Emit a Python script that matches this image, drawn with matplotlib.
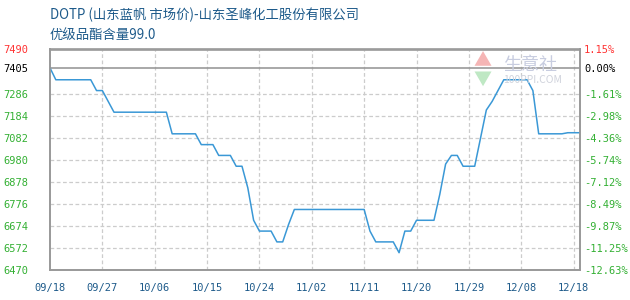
'''DOTP price chart (100ppi style)'''
import matplotlib
matplotlib.use('Agg')
import matplotlib.pyplot as plt

# chart data
title_line1 = 'DOTP (山东蓝帆 市场价)-山东圣峰化工股份有限公司'
title_line2 = '优级品酯含量99.0'
day_index = [0, 1, 7, 8, 9, 11, 20, 21, 25, 26, 28, 29, 31, 32, 33, 34, 35, 36,
             38, 39, 40, 41, 42, 54, 55, 56, 59, 60, 61, 62, 63, 66, 67, 68, 69,
             70, 71, 73, 74, 75, 76, 77, 78, 82, 83, 84, 88, 89, 91]
prices = [7405, 7350, 7350, 7300, 7300, 7200, 7200, 7100, 7100, 7050, 7050, 7000,
          7000, 6950, 6950, 6850, 6700, 6650, 6650, 6600, 6600, 6680, 6750, 6750,
          6650, 6600, 6600, 6550, 6650, 6650, 6700, 6700, 6820, 6960, 7000, 7000,
          6950, 6950, 7080, 7210, 7250, 7300, 7350, 7350, 7300, 7100, 7100, 7105,
          7105]
base_price = 7405
y_ticks = [6470, 6572, 6674, 6776, 6878, 6980, 7082, 7184, 7286, 7405, 7490]
x_tick_pos = [0, 9, 18, 27, 36, 45, 54, 63, 72, 81, 90]
x_tick_labels = ['09/18', '09/27', '10/06', '10/15', '10/24', '11/02', '11/11',
                 '11/20', '11/29', '12/08', '12/18']

plt.rcParams['font.family'] = ['Noto Sans CJK SC', 'DejaVu Sans']
fig = plt.figure(figsize=(6.3, 3.0), dpi=100)
ax = fig.add_axes([50 / 630, 30 / 300, 530 / 630, 220.5 / 300])

ax.plot(day_index, prices, color='#3a98d6', linewidth=1.1, zorder=3) #the price line
ax.axhline(base_price, color='#999999', linewidth=1.2, zorder=2) #the base line
ax.set_xlim(0, 91.1)
ax.set_ylim(y_ticks[0], y_ticks[-1])

# grid (no grid line on the base price)
ax.set_xticks(x_tick_pos)
ax.set_xticklabels(x_tick_labels, family='DejaVu Sans Mono', fontsize=7.5, color='#1d5a8a')
ax.set_yticks(y_ticks)
ax.set_yticklabels([str(v) for v in y_ticks], family='DejaVu Sans Mono', fontsize=7.5)
for v in y_ticks[1:-2]:
    ax.axhline(v, color='#cccccc', linestyle=(0, (3, 2)), linewidth=0.9, zorder=1)
for v in x_tick_pos[1:]:
    ax.axvline(v, color='#cccccc', linestyle=(0, (3, 2)), linewidth=0.9, zorder=1)
ax.tick_params(axis='both', length=0)
ax.tick_params(axis='x', pad=9)
ax.tick_params(axis='y', pad=15.5)

# right axis with percent change
ax2 = ax.twinx()
ax2.set_ylim(ax.get_ylim())
ax2.set_yticks(y_ticks)
ax2.set_yticklabels(['%.2f%%' % ((v - base_price) / base_price * 100) for v in y_ticks],
                    family='DejaVu Sans Mono', fontsize=7.5)
ax2.tick_params(axis='y', length=0, pad=3)

# colour of tick labels: red above base, black at base, green below
for a in (ax, ax2):
    for lbl, v in zip(a.get_yticklabels(), y_ticks):
        if v > base_price:
            lbl.set_color('#ff3333')
        elif v == base_price:
            lbl.set_color('#000000')
        else:
            lbl.set_color('#33b033')
    for side in a.spines:
        a.spines[side].set_color('#999999')
        a.spines[side].set_linewidth(1.2)

# watermark
fig.text(503 / 630, 1 - 65 / 300, '生意社', fontsize=13, color='#c8cde0', ha='left', va='center', zorder=0)
fig.text(503 / 630, 1 - 80 / 300, '100PPI.COM', fontsize=7.5, color='#d0d3dc', ha='left', va='center', zorder=0)
fig.text(482 / 630, 1 - 61 / 300, '▲', fontsize=13, color='#f5b5b5', ha='center', va='center', zorder=0)
fig.text(482 / 630, 1 - 80 / 300, '▼', fontsize=13, color='#bfe8c4', ha='center', va='center', zorder=0)

# titles
fig.text(50 / 630, 1 - 15 / 300, title_line1, fontsize=9.6, color='#1d5a8a', ha='left', va='center')
fig.text(50 / 630, 1 - 35 / 300, title_line2, fontsize=9.6, color='#1d5a8a', ha='left', va='center')

fig.savefig('out.png', dpi=100)
